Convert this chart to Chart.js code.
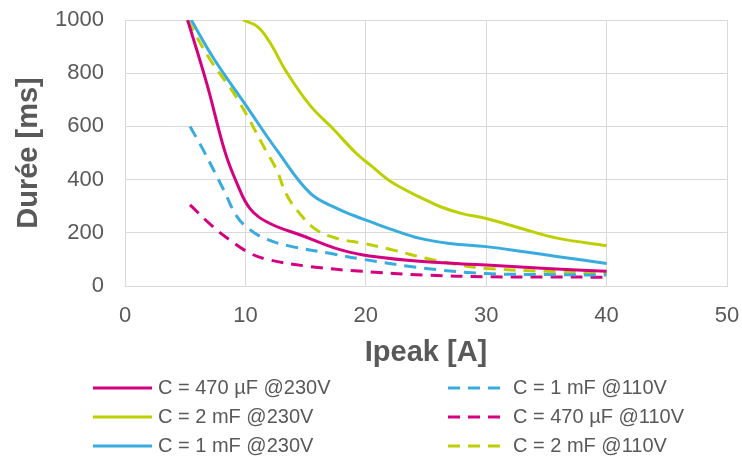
<!DOCTYPE html>
<html>
<head>
<meta charset="utf-8">
<script src="https://cdn.jsdelivr.net/npm/chart.js@4.4.0/dist/chart.umd.min.js"></script>
<style>
body{margin:0;background:#fff;}
#wrap{width:742px;height:458px;position:relative;}
</style>
</head>
<body>
<div id="wrap"><canvas id="chart"></canvas></div>
<script>
// valeurs : Ipeak [A] -> Durée [ms]
let xTicks=[0,10,20,30,40,50];
let yTicks=[0,200,400,600,800,1000];

let names=["C = 470 µF @230V","C = 2 mF @230V","C = 1 mF @230V","C = 1 mF @110V","C = 470 µF @110V","C = 2 mF @110V"];

let x470_230=[5.2,6.8,8.3,9.3,10.4,12,14.8,16.2,18,20.3,25,30,35,40];
let y470_230=[1000,760,505,386,290,236,188,163,135,113,91,79,66,55];

let x2m_230=[9.8,11,12,13.4,15.35,17.3,19.2,20.5,22.3,25,26.2,28,30,33,36,40];
let y2m_230=[1000,975,918,806,680,590,499,450,386,323,298,272,254,215,179,152];

let x1m_230=[5.5,7.3,10.1,12.7,15.4,17.6,19,20.3,22,24.5,27,30,33,36,40];
let y1m_230=[1000,860,675,505,348,292,265,243,215,179,160,148,130,110,85];

let x1m_110=[5.4,6.5,8.2,9.3,10.4,11.75,13.7,17,19.8,25,30,35,40];
let y1m_110=[600,511,361,261,211,176,150,123,100,66,47,43,41];

let x470_110=[5.4,7.3,8.7,10.4,12,15.4,19.7,25,30,35,40];
let y470_110=[305,223,173,123,98,73,55,41,35,34,33];

let x2m_110=[5.2,7,9.3,11.75,12.6,13.4,14.5,15.9,17.6,19.8,22.3,25,27.8,30,35,40];
let y2m_110=[1000,856,706,505,436,345,273,211,179,160,135,104,79,66,55,48];

let magenta="#d5007f";
let lime="#bdcf00";
let blue="#38abdf";

function pts(xs,ys){
  let out=[];
  for(let i=0;i<xs.length;i++){
    out.push({x:xs[i],y:ys[i]});
  }
  return out;
}

function serie(name,xs,ys,color,dash){
  return {
    label:name,
    data:pts(xs,ys),
    borderColor:color,
    backgroundColor:color,
    borderWidth:3,
    borderDash:dash,
    pointRadius:0,
    showLine:true,
    fill:false,
    tension:0.4
  };
}

let dash=[12,8];

// legende sur deux colonnes comme dans Excel
let legendPlugin={
  id:'legende2col',
  afterDraw(chart){
    let ctx=chart.ctx;
    let cols=[{x1:93,x2:152,tx:158},{x1:448,x2:507,tx:513}];
    let rows=[388,417,446];
    ctx.save();
    ctx.font='20px "Liberation Sans", Arial, sans-serif';
    ctx.textBaseline='middle';
    ctx.textAlign='left';
    chart.data.datasets.forEach((ds,i)=>{
      let c=cols[Math.floor(i/3)];
      let y=rows[i%3];
      ctx.strokeStyle=ds.borderColor;
      ctx.lineWidth=3;
      ctx.setLineDash(ds.borderDash||[]);
      ctx.beginPath();
      ctx.moveTo(c.x1,y);
      ctx.lineTo(c.x2,y);
      ctx.stroke();
      ctx.setLineDash([]);
      ctx.fillStyle='#595959';
      ctx.fillText(ds.label,c.tx,y);
    });
    ctx.restore();
  }
};

new Chart(document.getElementById("chart"),{
  type:'scatter',
  data:{
    datasets:[
      serie(names[0],x470_230,y470_230,magenta,[]),
      serie(names[1],x2m_230,y2m_230,lime,[]),
      serie(names[2],x1m_230,y1m_230,blue,[]),
      serie(names[3],x1m_110,y1m_110,blue,dash),
      serie(names[4],x470_110,y470_110,magenta,dash),
      serie(names[5],x2m_110,y2m_110,lime,dash)
    ]
  },
  options:{
    responsive:true,
    maintainAspectRatio:false,
    animation:false,
    layout:{padding:{left:0,right:15,top:20,bottom:88}},
    plugins:{
      legend:{display:false},
      tooltip:{enabled:false}
    },
    scales:{
      x:{
        type:'linear',
        min:xTicks[0],
        max:xTicks[xTicks.length-1],
        afterBuildTicks(s){ s.ticks=xTicks.map(v=>({value:v})); },
        afterFit(s){ s.height=84; s.paddingLeft=0; s.paddingRight=0; },
        ticks:{color:'#595959',font:{family:'"Liberation Sans", Arial',size:22},padding:17,maxRotation:0,callback:v=>String(v)},
        grid:{color:'#d9d9d9',drawTicks:false},
        border:{color:'#d9d9d9'},
        title:{display:true,text:'Ipeak [A]',color:'#595959',font:{family:'"Liberation Sans", Arial',size:29,weight:'bold'},padding:{top:0,bottom:0}}
      },
      y:{
        min:yTicks[0],
        max:yTicks[yTicks.length-1],
        afterBuildTicks(s){ s.ticks=yTicks.map(v=>({value:v})); },
        afterFit(s){ s.width=125; s.paddingTop=0; s.paddingBottom=0; },
        ticks:{color:'#595959',font:{family:'"Liberation Sans", Arial',size:22},padding:21,callback:v=>String(v)},
        grid:{color:'#d9d9d9',drawTicks:false},
        border:{color:'#d9d9d9'},
        title:{display:true,text:'Durée [ms]',color:'#595959',font:{family:'"Liberation Sans", Arial',size:29,weight:'bold'},padding:{top:12,bottom:0}}
      }
    }
  },
  plugins:[legendPlugin]
});
</script>
</body>
</html>
